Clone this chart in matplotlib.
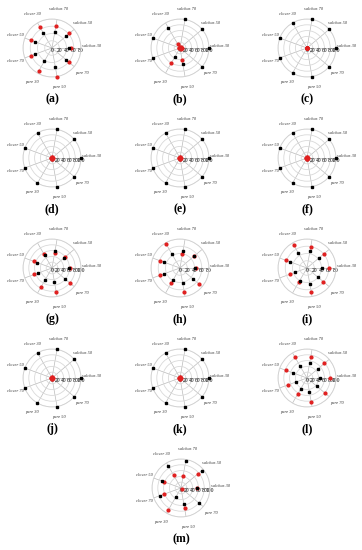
import numpy as np
import matplotlib.pyplot as plt

categories = ["salchas 30", "salchas 50", "salchas 70",
              "clover 30", "clover 50", "clover 70",
              "pare 30", "pare 50", "pare 70"]
panel_labels = ["(a)", "(b)", "(c)", "(d)", "(e)", "(f)", "(g)",
                "(h)", "(i)", "(j)", "(k)", "(l)", "(m)"]
rmax = [80, 100, 100, 100, 100, 100, 100, 80, 80, 100, 100, 100, 100]

# black squares, one row per panel, same order as categories
black_vals = [
    [46, 50, 45, 48, 49, 50, 43, 52, 52],
    [100, 100, 100, 80, 100, 100, 37, 55, 100],
    [100, 100, 100, 100, 100, 100, 100, 100, 100],
    [100, 100, 100, 100, 100, 100, 100, 100, 100],
    [100, 100, 100, 100, 100, 100, 100, 100, 100],
    [100, 100, 100, 100, 100, 100, 100, 100, 100],
    [58, 55, 61, 50, 54, 50, 48, 48, 60],
    [42, 51, 48, 45, 47, 46, 37, 43, 47],
    [40, 45, 49, 47, 51, 34, 41, 45, 40],
    [100, 100, 100, 100, 100, 100, 100, 100, 100],
    [100, 100, 100, 100, 100, 100, 100, 100, 100],
    [45, 50, 52, 48, 50, 40, 42, 48, 45],
    [55, 93, 94, 89, 70, 77, 35, 56, 80],
]
# red circles
red_vals = [
    [52, 63, 61, 67, 61, 63, 72, 80, 60],
    [8, 5, 4, 15, 5, 3, 60, 42, 3],
    [1, 1, 1, 1, 1, 1, 1, 1, 1],
    [2, 2, 2, 2, 2, 2, 2, 2, 2],
    [2, 2, 2, 2, 2, 2, 2, 2, 2],
    [2, 2, 2, 2, 2, 2, 2, 2, 2],
    [61, 60, 52, 55, 66, 65, 75, 84, 81],
    [45, 51, 38, 77, 59, 60, 49, 66, 67],
    [61, 61, 58, 73, 61, 49, 44, 68, 58],
    [2, 2, 2, 2, 2, 2, 2, 2, 2],
    [2, 2, 2, 2, 2, 2, 2, 2, 2],
    [80, 78, 75, 85, 78, 70, 65, 85, 80],
    [55, 77, 42, 50, 62, 62, 87, 70, 3],
]

W, H = 362, 550
fig = plt.figure(figsize=(W / 100, H / 100), dpi=100)

col_x = [52, 180, 307]
row_y = [48, 158, 268, 378, 488]
R = 29

theta = np.deg2rad(np.arange(len(categories)) * 40)

for i, lab in enumerate(panel_labels):
    if i < 12:
        cx, cy = col_x[i % 3], row_y[i // 3]
    else:
        cx, cy = 181, row_y[4]
    ax = fig.add_axes([(cx - R) / W, 1 - (cy + R) / H, 2 * R / W, 2 * R / H],
                      projection="polar")
    ax.set_ylim(0, rmax[i])
    ax.set_yticks(np.arange(0, rmax[i] + 1, 20))
    ax.set_rlabel_position(0)
    ax.tick_params(axis="y", labelsize=4, pad=0)
    for t in ax.get_yticklabels():
        t.set_va("top")
        t.set_ha("center")
        t.set_family("Liberation Serif")
    ax.set_xticks(theta)
    ax.set_xticklabels([])
    ax.grid(True, color="#bbbbbb", linewidth=0.5)
    ax.yaxis.grid(True, color="#d9d9d9", linewidth=0.6)
    ax.spines["polar"].set_color("#d0d0d0")
    ax.spines["polar"].set_linewidth(0.6)

    for th, name in zip(theta, categories):
        ax.text(th, rmax[i] * 1.36, name, ha="center",
                va="bottom" if th == 0 else "center",
                fontsize=3.2, fontstyle="italic", family="Liberation Serif",
                color="#333333", clip_on=False)

    ax.plot(theta, red_vals[i], "o", color="#e02020", markersize=2.0,
            clip_on=False, zorder=3)
    ax.plot(theta, black_vals[i], "s", color="black", markersize=1.9,
            clip_on=False, zorder=4)

    fig.text(cx / W, 1 - (cy + 51) / H, lab, ha="center", va="center",
             family="Liberation Serif", fontweight="bold", fontsize=8.5)

fig.savefig("out.png", dpi=100)
